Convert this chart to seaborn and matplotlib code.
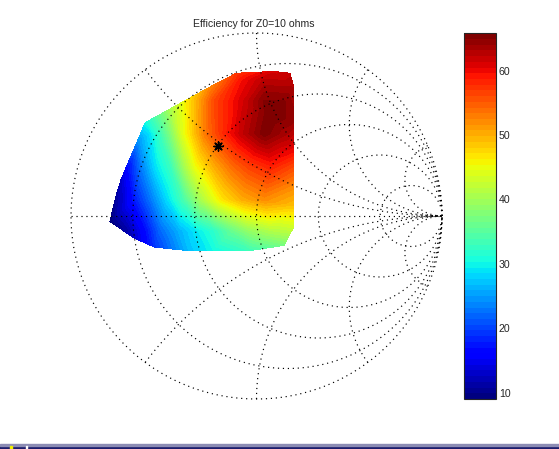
import numpy as np
import matplotlib
matplotlib.use("Agg")
import matplotlib.pyplot as plt
import matplotlib.tri as mtri
from matplotlib.patches import Rectangle
import seaborn as sns

# Measured efficiency (%) at load points, given as reflection coefficient (re, im)
# outline of the measured region
edge_re = [-0.79, -0.76, -0.73, -0.67, -0.63, -0.60, -0.47, -0.38, -0.26, -0.11,
           0.09, 0.18, 0.20, 0.20, 0.20, 0.20, 0.20, 0.20, 0.20, 0.15,
           -0.04, -0.24, -0.36, -0.55, -0.66]
edge_im = [-0.03, 0.10, 0.20, 0.31, 0.42, 0.51, 0.58, 0.63, 0.70, 0.78,
           0.79, 0.78, 0.71, 0.53, 0.36, 0.27, 0.16, 0.06, -0.06, -0.16,
           -0.19, -0.19, -0.19, -0.17, -0.12]
edge_eff = [9.0, 10.5, 13, 19, 25, 30, 40, 46, 52, 57,
            61, 62, 63, 64.5, 60, 56, 52, 49, 43, 37,
            33, 30, 27, 19, 13]

# points inside the region
inner_re = [-0.08, 0.04,
            -0.23, -0.08, 0.04, 0.15,
            0.07,
            -0.57, -0.52, -0.46, -0.40, -0.34, -0.27, -0.19, -0.08, 0.04, 0.15,
            -0.61, -0.54, -0.46, -0.39, -0.33, -0.23, -0.13, -0.04, 0.08,
            -0.66, -0.56, -0.48, -0.39, -0.29, -0.19, -0.08, 0.04,
            -0.70, -0.61, -0.52, -0.42, -0.33, -0.23, -0.13, -0.04, 0.08]
inner_im = [0.74, 0.74,
            0.63, 0.63, 0.63, 0.63,
            0.54,
            0.45, 0.45, 0.45, 0.45, 0.45, 0.45, 0.45, 0.45, 0.45, 0.45,
            0.27, 0.27, 0.27, 0.27, 0.27, 0.27, 0.27, 0.27, 0.27,
            0.09, 0.09, 0.09, 0.09, 0.09, 0.09, 0.09, 0.09,
            -0.08, -0.08, -0.08, -0.08, -0.08, -0.08, -0.08, -0.08, -0.08]
inner_eff = [59.5, 62.5,
             56, 61, 65, 65,
             65.8,
             29, 33, 38, 44, 48.5, 53.5, 57.5, 62, 65.5, 63.5,
             24, 29, 33, 40, 45, 50, 54, 56.5, 58.5,
             17.5, 23.5, 28.5, 34, 41, 46.5, 50, 52,
             11, 16, 22, 26, 29, 32, 36, 39, 41]

# marked load point
mark_re = [-0.21]
mark_im = [0.38]

# smith chart grid
r_values = [0.2, 0.5, 1, 2, 5]
x_values = [0.5, 1, 2, 5]

cbar_ticks = [10, 20, 30, 40, 50, 60]
title = "Efficiency for Z0=10 ohms"

sns.set_style("white")
plt.rcParams["font.family"] = ["Liberation Sans", "DejaVu Sans"]

W, H = 559, 449
fig = plt.figure(figsize=(W / 100, H / 100), dpi=100)

# chart centre at (256.5, 216) px, radius 185.5 px wide / 183 px tall
cx, cy, rx, ry = 256.5, 216.0, 185.5, 183.0
lim = 1.1
ax = fig.add_axes([(cx - lim * rx) / W, (H - cy - lim * ry) / H,
                   2 * lim * rx / W, 2 * lim * ry / H])

g_re = np.array(edge_re + inner_re)
g_im = np.array(edge_im + inner_im)
eff = np.array(edge_eff + inner_eff)

cmap = plt.get_cmap("jet", 64)
levels = np.linspace(eff.min(), eff.max(), 65)
tri = mtri.Triangulation(g_re, g_im)
cs = ax.tricontourf(tri, eff, levels=levels, cmap=cmap, zorder=1,
                    antialiased=False)

# dotted smith chart grid
grid_kw = dict(color="black", lw=0.85, ls=(0, (1, 3.2)), zorder=2)
t = np.linspace(0, 2 * np.pi, 721)
ax.plot(np.cos(t), np.sin(t), **grid_kw)
ax.plot([-1, 1], [0, 0], **grid_kw)
for r in r_values:
    c, rad = r / (1 + r), 1 / (1 + r)
    ax.plot(c + rad * np.cos(t), rad * np.sin(t), **grid_kw)
rr = np.concatenate([[0], np.geomspace(1e-3, 1e4, 900)])
for x in x_values:
    for s in (1, -1):
        z = rr + 1j * s * x
        g = (z - 1) / (z + 1)
        ax.plot(g.real, g.imag, **grid_kw)

sns.scatterplot(x=mark_re, y=mark_im, marker=(8, 2, 0), s=45, color="black",
                edgecolor="black", linewidth=1.0, ax=ax, zorder=3, legend=False)
ax.set_xlim(-lim, lim)
ax.set_ylim(-lim, lim)
ax.axis("off")

fig.text(254 / W, 1 - 26.7 / H, title, ha="center", va="baseline", fontsize=7.6)

cax = fig.add_axes([464.3 / W, (H - 399) / H, 31.7 / W, 365.7 / H])
cb = fig.colorbar(cs, cax=cax, ticks=cbar_ticks)
cb.outline.set_linewidth(0.8)
cax.tick_params(direction="in", length=4, width=0.8, labelsize=7.6,
                left=True, right=True, pad=2)

# strip at the bottom of the window capture
fig.patches.append(Rectangle((0, 0), 1, 3.5 / H, transform=fig.transFigure,
                             color="#1c1c6c", zorder=0))
fig.patches.append(Rectangle((0, 3.5 / H), 1, 1.6 / H, transform=fig.transFigure,
                             color="#8c8cb4", zorder=0))
fig.patches.append(Rectangle((10 / W, 0), 2 / W, 3.5 / H, transform=fig.transFigure,
                             color="#f0f000", zorder=1))
fig.patches.append(Rectangle((25.7 / W, 0), 0.8 / W, 3.5 / H, transform=fig.transFigure,
                             color="white", zorder=1))

fig.savefig("out.png", dpi=100)
